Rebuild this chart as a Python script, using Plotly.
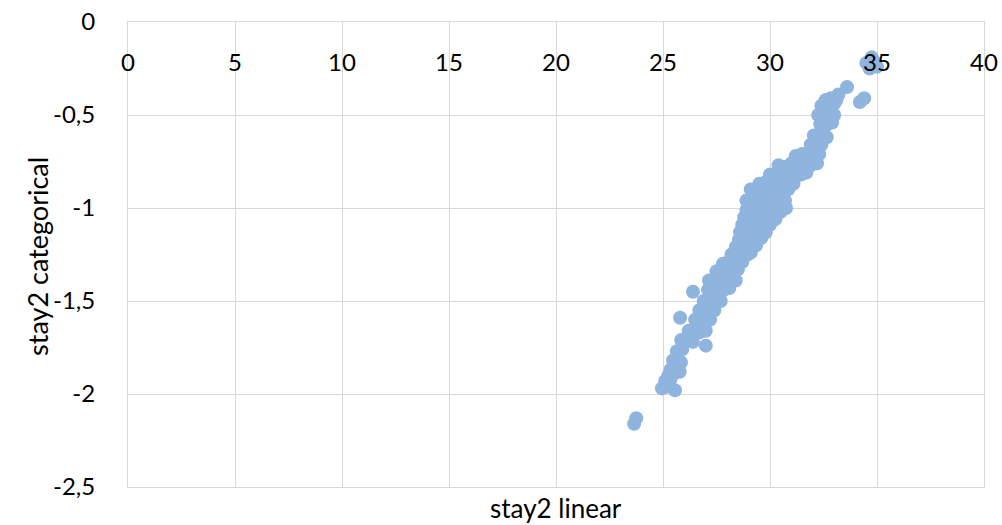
import plotly.graph_objects as go

# stay2 linear (x) vs stay2 categorical (y)
x_linear = [
    23.65, 23.75, 25.56, 24.95, 25.20, 25.10, 25.35, 25.25, 25.50, 25.35,
    25.60, 25.78, 25.47, 25.70, 25.84, 25.65, 25.90, 27.00, 25.85, 26.10,
    26.40, 26.20, 26.45, 26.70, 27.00, 26.50, 26.75, 27.00, 27.20, 25.80,
    26.70, 26.95, 27.20, 27.40, 26.90, 27.15, 27.40, 27.70, 26.40, 27.10,
    27.35, 27.60, 27.85, 28.10, 27.15, 27.40, 27.65, 27.90, 28.15, 28.40,
    27.50, 27.75, 28.00, 28.25, 28.50, 27.80, 28.05, 28.30, 28.55, 28.70,
    28.20, 28.45, 28.70, 28.95, 29.10, 28.40, 28.65, 28.90, 29.15, 29.35,
    28.55, 28.80, 29.05, 29.30, 29.60, 28.60, 28.85, 29.10, 29.35, 29.60,
    29.80, 28.70, 28.95, 29.20, 29.45, 29.70, 30.00, 28.80, 29.05, 29.30,
    29.55, 29.80, 30.05, 30.25, 28.90, 29.15, 29.40, 29.65, 29.90, 30.15,
    30.50, 30.75, 28.90, 29.15, 29.40, 29.65, 29.90, 30.15, 30.40, 30.70,
    29.10, 29.35, 29.60, 29.85, 30.10, 30.35, 30.60, 30.85, 29.50, 29.80,
    30.10, 30.40, 30.70, 31.10, 30.00, 30.30, 30.60, 30.90, 31.20, 31.45,
    31.70, 30.40, 30.70, 31.00, 31.30, 31.60, 31.90, 32.20, 31.20, 31.50,
    31.80, 32.05, 32.30, 31.90, 32.15, 32.40, 32.05, 32.35, 32.65, 32.35,
    32.60, 32.90, 32.25, 32.55, 32.80, 33.00, 32.40, 32.70, 33.00, 32.60,
    32.85, 33.10, 33.20, 33.60, 34.20, 34.40, 34.50, 34.75, 35.00, 34.65,
    34.85,
]
y_categorical = [
    -2.16, -2.13, -1.98, -1.97, -1.96, -1.93, -1.92, -1.90, -1.89, -1.87,
    -1.86, -1.88, -1.82, -1.81, -1.83, -1.77, -1.76, -1.74, -1.71, -1.70,
    -1.72, -1.66, -1.65, -1.67, -1.66, -1.60, -1.61, -1.59, -1.60, -1.59,
    -1.55, -1.54, -1.56, -1.55, -1.50, -1.49, -1.51, -1.50, -1.45, -1.44,
    -1.43, -1.45, -1.44, -1.43, -1.39, -1.38, -1.40, -1.39, -1.38, -1.39,
    -1.34, -1.33, -1.35, -1.34, -1.33, -1.30, -1.29, -1.31, -1.30, -1.29,
    -1.25, -1.24, -1.26, -1.25, -1.24, -1.21, -1.20, -1.22, -1.21, -1.20,
    -1.17, -1.16, -1.18, -1.17, -1.16, -1.13, -1.12, -1.14, -1.13, -1.12,
    -1.13, -1.09, -1.08, -1.10, -1.09, -1.08, -1.09, -1.05, -1.04, -1.06,
    -1.05, -1.04, -1.05, -1.06, -1.01, -1.00, -1.02, -1.01, -1.00, -1.01,
    -1.02, -1.00, -0.96, -0.95, -0.97, -0.96, -0.95, -0.96, -0.97, -0.96,
    -0.90, -0.91, -0.89, -0.90, -0.91, -0.90, -0.89, -0.90, -0.87, -0.86,
    -0.88, -0.87, -0.86, -0.87, -0.82, -0.83, -0.81, -0.82, -0.83, -0.82,
    -0.81, -0.77, -0.78, -0.76, -0.77, -0.78, -0.77, -0.76, -0.72, -0.71,
    -0.73, -0.72, -0.71, -0.66, -0.67, -0.66, -0.61, -0.60, -0.62, -0.55,
    -0.56, -0.54, -0.50, -0.51, -0.49, -0.50, -0.45, -0.46, -0.44, -0.42,
    -0.41, -0.42, -0.39, -0.35, -0.43, -0.41, -0.22, -0.19, -0.24, -0.25,
    -0.21,
]

x_tick_vals = [0, 5, 10, 15, 20, 25, 30, 35, 40]
x_tick_text = ["0", "5", "10", "15", "20", "25", "30", "35", "40"]
y_tick_vals = [0, -0.5, -1, -1.5, -2, -2.5]
y_tick_text = ["0", "-0,5", "-1", "-1,5", "-2", "-2,5"]

x_title = "stay2 linear"
y_title = "stay2 categorical"

FONT = "Lato"
GRID = "#d9d9d9"

fig = go.Figure()
fig.add_trace(go.Scatter(
    x=x_linear, y=y_categorical, mode="markers",
    marker=dict(size=14, color="#8fb4de", line=dict(width=0)),
    showlegend=False, hoverinfo="x+y",
))

fig.update_layout(
    width=1002, height=525,
    margin=dict(l=128, r=18, t=22, b=38),
    paper_bgcolor="white", plot_bgcolor="white",
    font=dict(family=FONT, size=24, color="black"),
    xaxis=dict(
        range=[0, 40], tickvals=x_tick_vals, ticktext=x_tick_text,
        side="top", ticklabelposition="inside", ticklabeloverflow="allow",
        ticklabelstandoff=34, ticks="",
        showgrid=True, gridcolor=GRID, gridwidth=1,
        showline=True, linecolor=GRID, linewidth=1, mirror=True,
        zeroline=False, automargin=False, fixedrange=True,
        tickfont=dict(family=FONT, size=24, color="black"),
    ),
    yaxis=dict(
        range=[-2.5, 0], tickvals=y_tick_vals, ticktext=y_tick_text,
        ticks="", ticklabelstandoff=27,
        showgrid=True, gridcolor=GRID, gridwidth=1,
        showline=True, linecolor=GRID, linewidth=1, mirror=True,
        zeroline=False, automargin=False, fixedrange=True,
        tickfont=dict(family=FONT, size=24, color="black"),
    ),
    annotations=[
        dict(text=x_title, xref="paper", yref="paper", x=0.5, y=-0.046,
             xanchor="center", yanchor="middle", showarrow=False,
             font=dict(family=FONT, size=26, color="black")),
        dict(text=y_title, xref="paper", yref="paper", x=-0.105, y=0.495,
             xanchor="center", yanchor="middle", textangle=-90, showarrow=False,
             font=dict(family=FONT, size=27, color="black")),
    ],
)

fig.write_html(
    "out.html",
    config={"displayModeBar": False},
    post_script="document.body.style.margin='0px';document.body.style.overflow='hidden';",
)
